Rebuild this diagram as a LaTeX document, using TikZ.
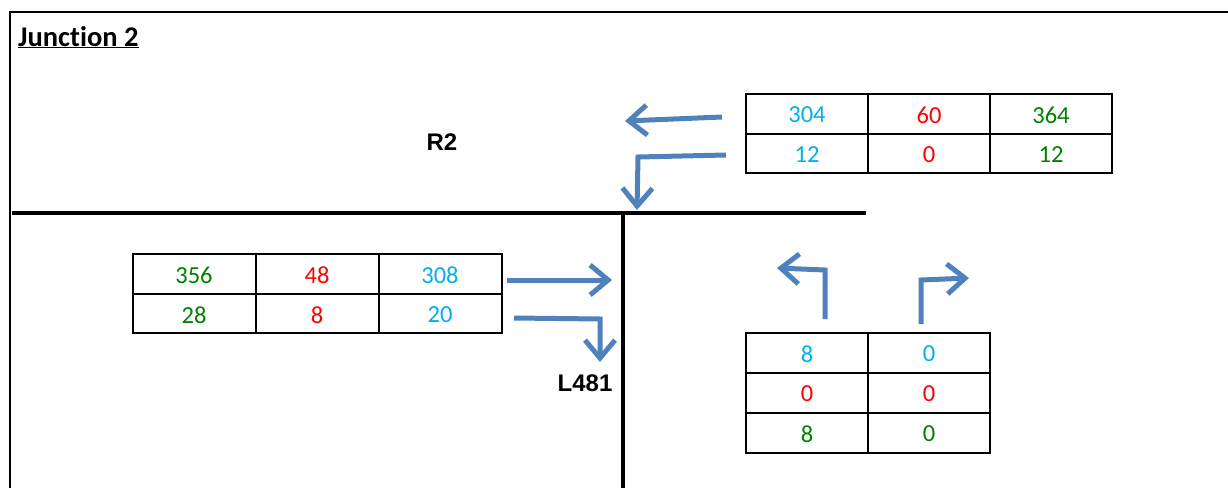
\documentclass[tikz,border=0pt]{standalone}
\usepackage{fontspec}
\setmainfont[Ligatures=NoCommon]{Carlito}
\newfontfamily\arialfont{Liberation Sans}
\usetikzlibrary{arrows.meta}
\definecolor{cblue}{RGB}{0,176,240}
\definecolor{cred}{RGB}{255,0,0}
\definecolor{cgreen}{RGB}{0,128,0}
\definecolor{arrowblue}{RGB}{79,129,189}
\tikzset{
  road/.style={line width=4pt},
  frame/.style={line width=1.5pt},
  grid/.style={line width=2.3pt},
  flow/.style={draw=arrowblue, line width=5pt, -{Straight Barb[length=18pt,width=30pt]}},
  num/.style={font=\fontsize{24.5}{28}\selectfont, inner sep=0pt},
  lbl/.style={font=\arialfont\bfseries\fontsize{24}{28}\selectfont, inner sep=0pt},
}
\begin{document}
\begin{tikzpicture}[x=1pt,y=-1pt]
\useasboundingbox (0,0) rectangle (1228,488);
% frame
\coordinate (ftl) at (10,12);
\draw[frame] (10,488) -- (ftl) -- (1228,12);
\node[anchor=base west, inner sep=0pt, font=\bfseries\fontsize{28.5}{32}\selectfont] (title) at (18,46) {\underline{Junction 2}};
% roads
\coordinate (h1) at (12,213);
\coordinate (h2) at (866,213);
\coordinate (v1) at (623,213);
\coordinate (v2) at (623,488);
\draw[road] (h1) -- (h2);
\draw[road] (v1) -- (v2);
\node[lbl] (r2) at (442,142) {R2};
\node[lbl] (l481) at (585,383) {L481};
% top right table
\draw[grid] (746,94) rectangle (1112,173);
\draw[grid] (746,134) -- (1112,134);
\draw[grid] (868,94) -- (868,173);
\draw[grid] (990,94) -- (990,173);
\node[num, text=cblue] (a1) at (807,115) {304};
\node[num, text=cred] (a2) at (929,115) {60};
\node[num, text=cgreen] (a3) at (1051,115) {364};
\node[num, text=cblue] (a4) at (807,155) {12};
\node[num, text=cred] (a5) at (929,155) {0};
\node[num, text=cgreen] (a6) at (1051,155) {12};
% left table
\draw[grid] (133,254) rectangle (502,333);
\draw[grid] (133,294) -- (502,294);
\draw[grid] (256,254) -- (256,333);
\draw[grid] (379,254) -- (379,333);
\node[num, text=cgreen] (b1) at (194,275) {356};
\node[num, text=cred] (b2) at (317,275) {48};
\node[num, text=cblue] (b3) at (440,275) {308};
\node[num, text=cgreen] (b4) at (194,315) {28};
\node[num, text=cred] (b5) at (317,315) {8};
\node[num, text=cblue] (b6) at (440,315) {20};
% bottom right table
\draw[grid] (746,333) rectangle (990,453);
\draw[grid] (746,373) -- (990,373);
\draw[grid] (746,413) -- (990,413);
\draw[grid] (868,333) -- (868,453);
\node[num, text=cblue] (c1) at (807,354) {8};
\node[num, text=cblue] (c2) at (929,354) {0};
\node[num, text=cred] (c3) at (807,394) {0};
\node[num, text=cred] (c4) at (929,394) {0};
\node[num, text=cgreen] (c5) at (807,434) {8};
\node[num, text=cgreen] (c6) at (929,434) {0};
% arrows
\coordinate (p1s) at (722,117);
\coordinate (p1e) at (625,121);
\draw[flow] (p1s) -- (p1e);
\coordinate (p2s) at (726,155);
\coordinate (p2m) at (638,157);
\coordinate (p2e) at (637,210);
\draw[flow] (p2s) -- (p2m) -- (p2e);
\coordinate (p3s) at (507,280);
\coordinate (p3e) at (612,280);
\draw[flow] (p3s) -- (p3e);
\coordinate (p4s) at (514,318);
\coordinate (p4m) at (600,319);
\coordinate (p4e) at (600,362);
\draw[flow] (p4s) -- (p4m) -- (p4e);
\coordinate (p5s) at (825,319);
\coordinate (p5m) at (825,270);
\coordinate (p5e) at (777,268);
\draw[flow] (p5s) -- (p5m) -- (p5e);
\coordinate (p6s) at (921,324);
\coordinate (p6m) at (921,280);
\coordinate (p6e) at (969,278);
\draw[flow] (p6s) -- (p6m) -- (p6e);
\end{tikzpicture}
\end{document}
